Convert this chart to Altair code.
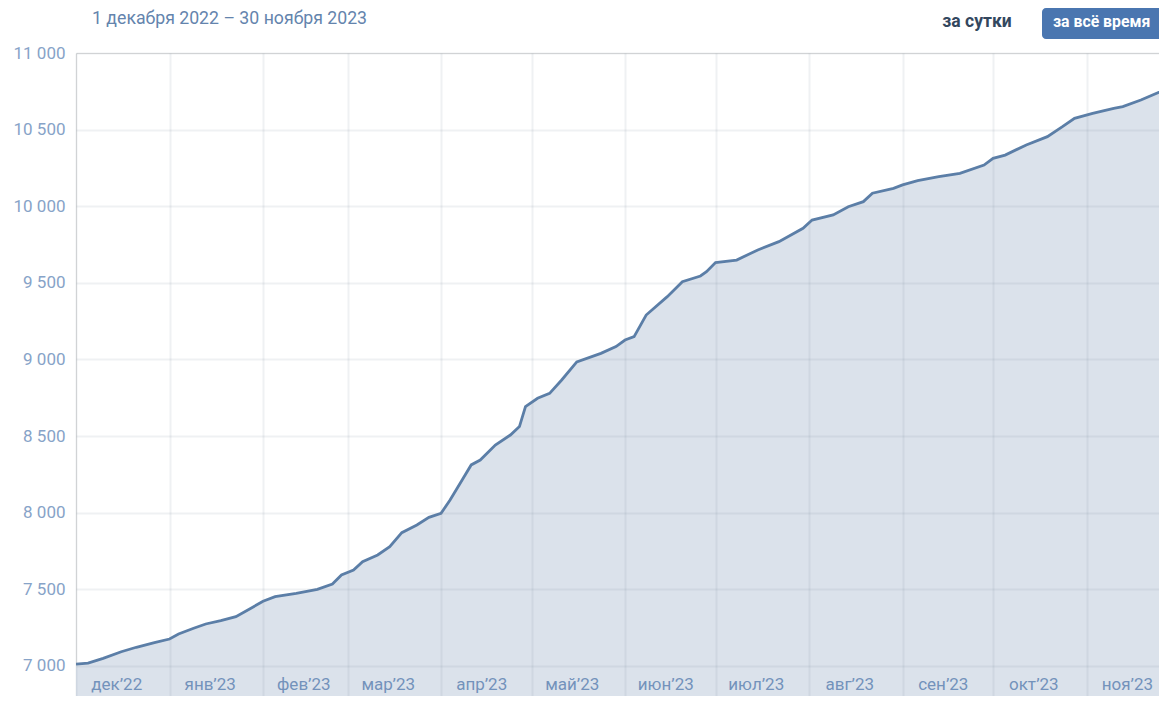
import altair as alt
import pandas as pd

# ---- data ----
dates = [
    "2022-12-01", "2022-12-05", "2022-12-10", "2022-12-16", "2022-12-21", "2022-12-27",
    "2023-01-01", "2023-01-04", "2023-01-09", "2023-01-13", "2023-01-18", "2023-01-23", "2023-01-28",
    "2023-02-01", "2023-02-05", "2023-02-12", "2023-02-19", "2023-02-24", "2023-02-27",
    "2023-03-03", "2023-03-06", "2023-03-11", "2023-03-15", "2023-03-19", "2023-03-24", "2023-03-28",
    "2023-04-01", "2023-04-04", "2023-04-08", "2023-04-11", "2023-04-14", "2023-04-19", "2023-04-24",
    "2023-04-27", "2023-04-29",
    "2023-05-03", "2023-05-07", "2023-05-11", "2023-05-16", "2023-05-24", "2023-05-29",
    "2023-06-01", "2023-06-04", "2023-06-08", "2023-06-15", "2023-06-20", "2023-06-26", "2023-06-28",
    "2023-07-01", "2023-07-08", "2023-07-15", "2023-07-22", "2023-07-30",
    "2023-08-02", "2023-08-09", "2023-08-14", "2023-08-19", "2023-08-22", "2023-08-29",
    "2023-09-01", "2023-09-06", "2023-09-13", "2023-09-20", "2023-09-28",
    "2023-10-01", "2023-10-05", "2023-10-12", "2023-10-19", "2023-10-24", "2023-10-28",
    "2023-11-03", "2023-11-10", "2023-11-13", "2023-11-19", "2023-11-28",
]
values = [
    7012, 7018, 7050, 7093, 7122, 7152,
    7176, 7209, 7246, 7274, 7296, 7322, 7377,
    7422, 7452, 7474, 7500, 7535, 7594,
    7626, 7681, 7724, 7778, 7870, 7920, 7970,
    7996, 8083, 8214, 8312, 8344, 8442, 8507,
    8562, 8692,
    8747, 8779, 8866, 8984, 9040, 9084,
    9127, 9149, 9290, 9410, 9508, 9545, 9573,
    9632, 9649, 9715, 9769, 9856,
    9910, 9943, 9997, 10030, 10085, 10117,
    10139, 10167, 10193, 10215, 10269,
    10313, 10334, 10400, 10454, 10519, 10574,
    10606, 10639, 10650, 10693, 10770,
]

month_label_dates = [
    "2022-12-14T12:00:00Z", "2023-01-14T12:00:00Z", "2023-02-14T12:00:00Z", "2023-03-14T12:00:00Z",
    "2023-04-14T12:00:00Z", "2023-05-14T12:00:00Z", "2023-06-14T12:00:00Z", "2023-07-14T12:00:00Z",
    "2023-08-14T12:00:00Z", "2023-09-14T12:00:00Z", "2023-10-14T12:00:00Z", "2023-11-14T12:00:00Z",
]
month_labels = ["дек’22", "янв’23", "фев’23", "мар’23", "апр’23", "май’23",
                "июн’23", "июл’23", "авг’23", "сен’23", "окт’23", "ноя’23"]
month_starts = [(2022, 12)] + [(2023, m) for m in range(1, 12)]
y_ticks = [7000, 7500, 8000, 8500, 9000, 9500, 10000, 10500, 11000]

title_text = "1 декабря 2022 – 30 ноября 2023"
btn_day = "за сутки"
btn_all = "за всё время"

FONT = "Roboto"
GRID = "#7a8ba0"

df = pd.DataFrame({"date": dates, "value": values})
df_months = pd.DataFrame({"date": month_label_dates, "label": month_labels})

x_enc = alt.X(
    "date:T",
    scale=alt.Scale(
        type="utc",
        domain=[alt.DateTime(year=2022, month=12, date=1, utc=True),
                alt.DateTime(year=2023, month=11, date=25, utc=True)],
    ),
    axis=alt.Axis(
        values=[alt.DateTime(year=y, month=m, date=1, utc=True) for y, m in month_starts],
        grid=True, labels=False, ticks=False, domain=False, title=None,
        gridColor=GRID, gridOpacity=0.12, gridWidth=2, zindex=1,
    ),
)
y_enc = alt.Y(
    "value:Q",
    scale=alt.Scale(domain=[6804, 11000], nice=False, zero=False),
    axis=alt.Axis(
        values=y_ticks,
        labelExpr="floor(datum.value/1000) + ' ' + format(datum.value % 1000, '03d')",
        ticks=False, domain=False, title=None, labelPadding=11,
        labelFont=FONT, labelFontSize=17, labelColor="#87a3c8",
        gridColor=GRID, gridOpacity=0.12, gridWidth=2, zindex=1,
    ),
)

base = alt.Chart(df)
area = base.mark_area(color="#dbe2eb", opacity=1, clip=True).encode(x=x_enc, y=y_enc)
line = base.mark_line(color="#5b7ea7", strokeWidth=2.8, clip=True).encode(x=x_enc, y=y_enc)

month_text = alt.Chart(df_months).mark_text(
    font=FONT, fontSize=17, color="#7392bb", align="center", baseline="middle"
).encode(x=x_enc, y=alt.value(632), text="label:N")

title = alt.Chart(pd.DataFrame({"t": [title_text]})).mark_text(
    font=FONT, fontSize=17.7, color="#6484ad", align="left", baseline="middle"
).encode(x=alt.value(16), y=alt.value(-34), text="t:N")

day_btn = alt.Chart(pd.DataFrame({"t": [btn_day]})).mark_text(
    font=FONT, fontSize=17.5, fontWeight="bold", color="#33475e", align="center", baseline="middle"
).encode(x=alt.value(901), y=alt.value(-31), text="t:N")

all_rect = alt.Chart(pd.DataFrame({"t": [btn_all]})).mark_rect(
    color="#4a76b0", cornerRadius=4
).encode(x=alt.value(966), x2=alt.value(1110), y=alt.value(-45), y2=alt.value(-14))

all_btn = alt.Chart(pd.DataFrame({"t": [btn_all]})).mark_text(
    font=FONT, fontSize=15.8, fontWeight="bold", color="#ffffff", align="left", baseline="middle"
).encode(x=alt.value(977), y=alt.value(-31), text="t:N")

chart = alt.layer(area, line, month_text, title, day_btn, all_rect, all_btn).properties(
    width=1083,
    height=643,
    autosize=alt.AutoSizeParams(type="none"),
    padding={"left": 68, "top": 45, "right": 0, "bottom": 0},
).configure_view(
    fill="#f9fafc", stroke="transparent"
).configure(background="#ffffff")

chart.save("out.html", embed_options={"renderer": "svg", "actions": False})
